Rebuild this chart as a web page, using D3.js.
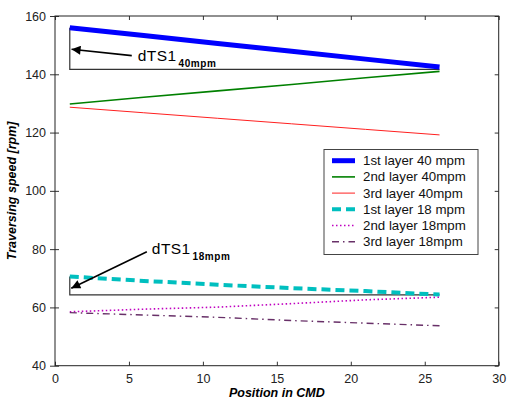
<!DOCTYPE html>
<html><head><meta charset="utf-8">
<script src="https://cdn.jsdelivr.net/npm/d3@7"></script>
<style>body{margin:0;background:#fff}svg{display:block}text{font-family:"Liberation Sans",Arial,sans-serif}</style>
</head><body>
<svg id="c" width="509" height="403"></svg>
<script>
const positions = [1, 6, 11, 16, 21, 26];
const layer1_40 = [156.0, 153.3, 150.6, 147.9, 145.2, 142.5];
const layer2_40 = [129.8, 132.1, 134.3, 136.5, 138.8, 141.0];
const layer3_40 = [128.7, 126.8, 124.9, 123.0, 121.1, 119.2];
const layer1_18 = [70.6, 69.1, 67.8, 66.6, 65.6, 64.4];
const layer2_18 = [58.5, 59.4, 60.1, 61.3, 62.6, 63.5];
const layer3_18 = [58.2, 57.4, 56.6, 55.5, 54.6, 53.7];
const seriesNames = ["1st layer 40 mpm","2nd layer 40mpm","3rd layer 40mpm","1st layer 18 mpm","2nd layer 18mpm","3rd layer 18mpm"];
const xTicks = [0,5,10,15,20,25,30];
const yTicks = [40,60,80,100,120,140,160];
const ref40 = [[1,156.0],[1,141.7],[26,141.7]];
const ref18 = [[1,70.6],[1,64.3],[26,64.3]];

const styles = [
  {c:"#0000ff", w:5, d:null},
  {c:"#008000", w:1.6, d:null},
  {c:"#ff2020", w:1, d:null},
  {c:"#00bfbf", w:4, d:"9,5"},
  {c:"#c000c0", w:1.6, d:"1.5,2.5"},
  {c:"#683068", w:1.4, d:"7,4,1.5,4"}
];
const data = [layer1_40, layer2_40, layer3_40, layer1_18, layer2_18, layer3_18];

const svg = d3.select("#c");
const L=55, R=498.7, T=16, B=365.7;
const x = d3.scaleLinear().domain([0,30]).range([L,R]);
const y = d3.scaleLinear().domain([40,160]).range([B,T]);

svg.append("defs").append("marker").attr("id","ah").attr("viewBox","0 0 10 10")
  .attr("refX",10).attr("refY",5).attr("markerWidth",13).attr("markerHeight",9)
  .attr("markerUnits","userSpaceOnUse").attr("orient","auto")
  .append("path").attr("d","M0,0L10,5L0,10Z").attr("fill","#000");

// axes
const fs = 12.5;
svg.append("g").attr("transform",`translate(0,${B})`)
  .call(d3.axisBottom(x).tickValues(xTicks).tickSize(-4).tickPadding(8))
  .call(g=>{g.select(".domain").remove();g.selectAll("text").attr("font-size",fs).attr("fill","#222").attr("font-family","Liberation Sans, Arial");g.selectAll("line").attr("stroke","#333");});
svg.append("g").attr("transform",`translate(0,${T})`)
  .call(d3.axisTop(x).tickValues(xTicks).tickSize(-4).tickFormat(""))
  .call(g=>{g.select(".domain").remove();g.selectAll("line").attr("stroke","#333");});
svg.append("g").attr("transform",`translate(${L},0)`)
  .call(d3.axisLeft(y).tickValues(yTicks).tickSize(5).tickPadding(4))
  .call(g=>{g.select(".domain").remove();g.selectAll("text").attr("font-size",fs).attr("fill","#222").attr("font-family","Liberation Sans, Arial");
    g.selectAll(".tick line").attr("x1",4).attr("x2",-5).attr("stroke","#333");});
svg.append("g").attr("transform",`translate(${R},0)`)
  .call(d3.axisRight(y).tickValues(yTicks).tickSize(-4).tickFormat(""))
  .call(g=>{g.select(".domain").remove();g.selectAll("line").attr("stroke","#333");});
svg.append("rect").attr("x",L).attr("y",T).attr("width",R-L).attr("height",B-T)
  .attr("fill","none").attr("stroke","#222").attr("stroke-width",1);

// reference brackets
const line = d3.line().x(d=>x(d[0])).y(d=>y(d[1]));
[ref40, ref18].forEach(r=>svg.append("path").attr("d",line(r)).attr("fill","none").attr("stroke","#333").attr("stroke-width",1.2));

// series
data.forEach((vals,i)=>{
  const s=styles[i];
  svg.append("path").attr("d",line(positions.map((p,j)=>[p,vals[j]])))
    .attr("fill","none").attr("stroke",s.c).attr("stroke-width",s.w)
    .attr("stroke-dasharray",s.d).attr("stroke-linejoin","round");
});

// annotations
function ann(tail, tip, txt, sub, tpos){
  svg.append("line").attr("x1",x(tail[0])).attr("y1",y(tail[1])).attr("x2",x(tip[0])).attr("y2",y(tip[1]))
    .attr("stroke","#000").attr("stroke-width",1.6).attr("marker-end","url(#ah)");
  const t=svg.append("text").attr("x",x(tpos[0])).attr("y",y(tpos[1])).attr("font-size",15.5).attr("fill","#000");
  t.append("tspan").text(txt).attr("letter-spacing",0.4);
  t.append("tspan").text(sub).attr("font-size",10).attr("font-weight","bold").attr("dx",2).attr("dy",6).attr("letter-spacing",0.6);
}
ann([5.19,146.4],[1.12,148.6],"dTS1","40mpm",[5.6,144.7]);
ann([6.21,79.1],[1.1,66.6],"dTS1","18mpm",[6.55,78.2]);

// axis labels
svg.append("text").attr("x",(L+R)/2).attr("y",397).attr("text-anchor","middle")
  .attr("font-size",12.5).attr("font-weight","bold").attr("font-style","italic").text("Position in CMD");
svg.append("text").attr("transform",`translate(16,${(T+B)/2}) rotate(-90)`).attr("text-anchor","middle")
  .attr("font-size",12.5).attr("font-weight","bold").attr("font-style","italic").text("Traversing speed [rpm]");

// legend
const lg = svg.append("g");
lg.append("rect").attr("x",324).attr("y",149.5).attr("width",154).attr("height",105)
  .attr("fill","#fff").attr("stroke","#444").attr("stroke-width",1);
seriesNames.forEach((n,i)=>{
  const yy = 160.7 + i*16.2, s=styles[i];
  lg.append("line").attr("x1",332).attr("x2",355).attr("y1",yy).attr("y2",yy)
    .attr("stroke",s.c).attr("stroke-width",s.w).attr("stroke-dasharray",s.d);
  lg.append("text").attr("x",363).attr("y",yy+4.5).attr("font-size",13.3).attr("fill","#111").text(n);
});
</script>
</body></html>
